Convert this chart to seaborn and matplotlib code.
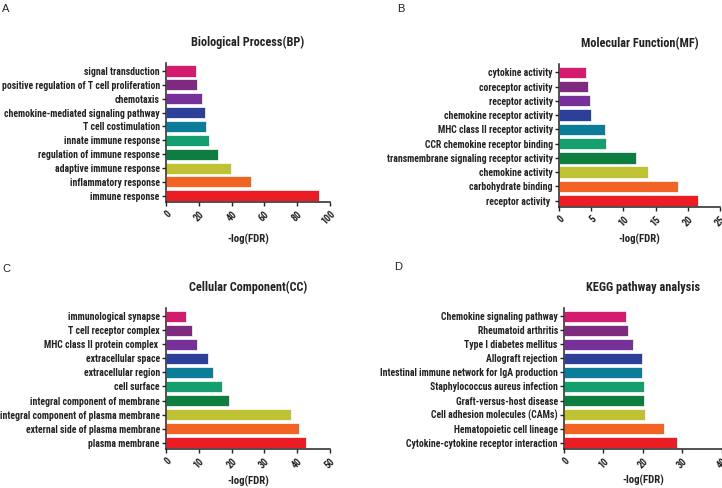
import matplotlib
matplotlib.use("Agg")
import matplotlib.pyplot as plt
from matplotlib import font_manager
import seaborn as sns
import pandas as pd

# ---------------- data ----------------
bp_terms = ["signal transduction", "positive regulation of T cell proliferation", "chemotaxis",
            "chemokine-mediated signaling pathway", "T cell costimulation", "innate immune response",
            "regulation of immune response", "adaptive immune response", "inflammatory response",
            "immune response"]
bp_values = [18.5, 18.9, 21.7, 23.7, 24.5, 26.2, 32.0, 39.6, 51.7, 93.5]

mf_terms = ["cytokine activity", "coreceptor activity", "receptor activity", "chemokine receptor activity",
            "MHC class II receptor activity", "CCR chemokine receptor binding",
            "transmembrane signaling receptor activity", "chemokine activity", "carbohydrate binding",
            "receptor activity "]
mf_values = [4.25, 4.56, 4.82, 4.93, 7.16, 7.37, 11.98, 13.8, 18.46, 21.58]

cc_terms = ["immunological synapse", "T cell receptor complex", "MHC class II protein complex ",
            "extracellular space", "extracellular region", "cell surface", "integral component of membrane",
            "integral component of plasma membrane", "external side of plasma membrane", "plasma membrane"]
cc_values = [6.2, 7.8, 9.4, 12.7, 14.3, 17.2, 19.2, 38.2, 40.7, 42.7]

kegg_terms = ["Chemokine signaling pathway", "Rheumatoid arthritis", "Type I diabetes mellitus",
              "Allograft rejection", "Intestinal immune network for IgA production",
              "Staphylococcus aureus infection", "Graft-versus-host disease", "Cell adhesion molecules (CAMs)",
              "Hematopoietic cell lineage", "Cytokine-cytokine receptor interaction"]
kegg_values = [15.7, 16.3, 17.6, 19.7, 19.9, 20.2, 20.3, 20.6, 25.3, 28.6]

titles = ["Biological Process(BP)", "Molecular Function(MF)", "Cellular Component(CC)", "KEGG pathway analysis"]
letters = ["A", "B", "C", "D"]
xmax = [100, 25, 50, 40]
xsteps = [20, 5, 10, 10]
xlabel = "-log(FDR)"

colors = ["#D41C6E", "#7E2A7E", "#77309A", "#2D4099", "#0B7C9A",
          "#13A06E", "#0E7D40", "#BFC233", "#F26424", "#EC1C24"]

# ---------------- style ----------------
sns.set_style("ticks")
names = {f.name for f in font_manager.fontManager.ttflist}
scale = 0.86
main_font = "Liberation Sans"
for cand in ["Liberation Sans Narrow", "Roboto Condensed", "Arial Narrow", "Open Sans Condensed"]:
    if cand in names:
        main_font = cand
        scale = 1.0
        break
plt.rcParams["font.family"] = [main_font, "DejaVu Sans"]

W, H = 722, 488
fig = plt.figure(figsize=(W / 100, H / 100), dpi=100)

# axes rectangles in pixels: left, right, top, bottom
rects = [(166, 330, 63, 202), (559, 720, 64, 207), (166, 330, 308, 449), (564, 721.7, 308, 449)]
letter_pos = [(2, 4), (397, 4), (2, 264), (394, 262)]
xlabel_y = [234, 234, 476, 475]

datasets = [(bp_terms, bp_values), (mf_terms, mf_values), (cc_terms, cc_values), (kegg_terms, kegg_values)]
ink = "#222222"

for i, (terms, vals) in enumerate(datasets):
    l, r, t, b = rects[i]
    ax = fig.add_axes([l / W, 1 - b / H, (r - l) / W, (b - t) / H])
    df = pd.DataFrame({"term": terms, "value": vals})
    sns.barplot(data=df, x="value", y="term", hue="term", palette=colors, legend=False,
                orient="h", width=0.8, saturation=1, ax=ax, edgecolor="white", linewidth=0.5)
    ax.set_xlim(0, xmax[i])
    ax.set_ylim(9.45, -0.58)
    ax.set_xticks(range(0, xmax[i] + 1, xsteps[i]))
    ax.set_xticklabels([str(v) for v in range(0, xmax[i] + 1, xsteps[i])],
                       rotation=45, ha="right", rotation_mode="anchor",
                       fontsize=7 * scale, fontweight="bold")
    ax.set_yticks(range(len(terms)))
    ax.set_yticklabels(terms, fontsize=7.0 * scale, fontweight="bold", color=ink)
    ax.tick_params(axis="both", length=3, width=1, pad=1.5, colors=ink)
    ax.tick_params(axis="x", pad=2)
    for s in ["left", "bottom"]:
        ax.spines[s].set_linewidth(1.1)
        ax.spines[s].set_color(ink)
    sns.despine(ax=ax)
    ax.set_ylabel("")
    ax.set_xlabel("")
    fig.text((l + r) / 2 / W, 1 - xlabel_y[i] / H, xlabel, fontsize=7.8 * scale, fontweight="bold",
             ha="center", va="top", color=ink)
    ax.set_title(titles[i], fontsize=8.8 * scale, fontweight="bold", pad=12, color=ink)
    lx, ly = letter_pos[i]
    fig.text(lx / W, 1 - ly / H, letters[i], fontsize=8, va="top", ha="left",
             family=["Liberation Sans", "DejaVu Sans"], color=ink)

fig.savefig("out.png", dpi=100)
